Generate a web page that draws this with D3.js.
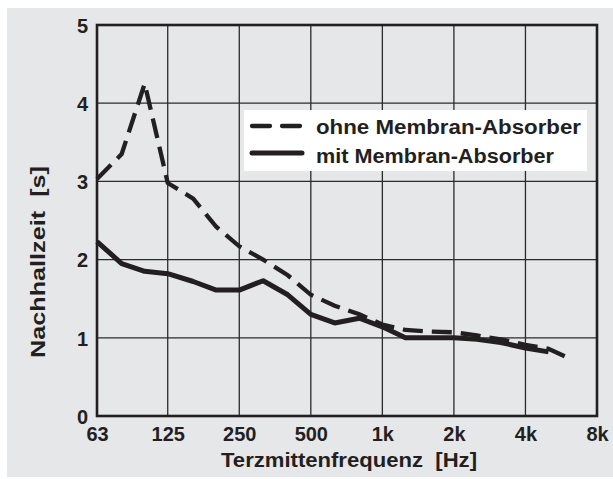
<!DOCTYPE html>
<html>
<head>
<meta charset="utf-8">
<script src="https://cdn.jsdelivr.net/npm/d3@7"></script>
<style>
  html, body { margin: 0; padding: 0; background: #ffffff; }
  svg { display: block; }
  text { font-family: "Liberation Sans", Arial, sans-serif; font-weight: bold; fill: #231f20; }
</style>
</head>
<body>
<svg id="chart" width="613" height="479"></svg>
<script>
// ---- data ----
const freqOhne = [63, 80, 100, 125, 160, 200, 250, 315, 400, 500, 630, 800, 1000, 1250, 1600, 2000, 2500, 3150, 4000, 5000, 6300];
const ohne     = [3.03, 3.35, 4.25, 2.98, 2.78, 2.42, 2.17, 2.0, 1.8, 1.55, 1.41, 1.3, 1.17, 1.1, 1.08, 1.07, 1.03, 0.98, 0.91, 0.86, 0.72];
const freqMit  = [63, 80, 100, 125, 160, 200, 250, 315, 400, 500, 630, 800, 1000, 1250, 1600, 2000, 2500, 3150, 4000, 5000];
const mit      = [2.23, 1.95, 1.85, 1.82, 1.72, 1.61, 1.61, 1.73, 1.55, 1.3, 1.19, 1.25, 1.14, 1.0, 1.0, 1.0, 0.98, 0.94, 0.87, 0.82];
const xTicks      = [63, 125, 250, 500, 1000, 2000, 4000, 8000];
const xTickLabels = ["63", "125", "250", "500", "1k", "2k", "4k", "8k"];
const yTicks      = [0, 1, 2, 3, 4, 5];
const seriesNames = ["ohne Membran-Absorber", "mit Membran-Absorber"];
const xTitle = "Terzmittenfrequenz\u00a0\u00a0[Hz]";
const yTitle = "Nachhallzeit\u00a0\u00a0[s]";

// ---- layout ----
const L = 97, R = 597, T = 25, B = 416;
const svg = d3.select("#chart");

svg.append("rect").attr("x", 7).attr("y", 8).attr("width", 606).attr("height", 469).attr("fill", "#e6e7e9");

const x = d3.scaleLog().domain([63, 8000]).range([L, R]);
const y = d3.scaleLinear().domain([0, 5]).range([B, T]);

// grid
const grid = svg.append("g").attr("stroke", "#2b2b2b").attr("stroke-width", 1.3);
grid.selectAll("line.v").data(xTicks.slice(1, -1)).join("line")
  .attr("x1", d => x(d)).attr("x2", d => x(d)).attr("y1", T).attr("y2", B);
grid.selectAll("line.h").data(yTicks.slice(1, -1)).join("line")
  .attr("x1", L).attr("x2", R).attr("y1", d => y(d)).attr("y2", d => y(d));

// legend box
svg.append("rect").attr("x", 244).attr("y", 110).attr("width", 343).attr("height", 61).attr("fill", "#ffffff");

// lines
const line = d3.line().x(d => x(d[0])).y(d => y(d[1]));
svg.append("path").datum(freqOhne.map((f, i) => [f, ohne[i]]))
  .attr("d", line).attr("fill", "none").attr("stroke", "#231f20")
  .attr("stroke-width", 4.3).attr("stroke-dasharray", "20,9").attr("stroke-linejoin", "miter");
svg.append("path").datum(freqMit.map((f, i) => [f, mit[i]]))
  .attr("d", line).attr("fill", "none").attr("stroke", "#231f20")
  .attr("stroke-width", 5).attr("stroke-linejoin", "round");

// frame
svg.append("rect").attr("x", L).attr("y", T).attr("width", R - L).attr("height", B - T)
  .attr("fill", "none").attr("stroke", "#231f20").attr("stroke-width", 2.6);

// axes labels via d3 axes (ticks hidden)
const xAxis = d3.axisBottom(x).tickValues(xTicks).tickFormat((d, i) => xTickLabels[i]).tickSize(0).tickPadding(0);
const gx = svg.append("g").attr("transform", `translate(0,${B})`).call(xAxis);
gx.select(".domain").remove();
gx.selectAll("text").attr("font-size", 20).attr("font-family", null).attr("fill", null)
  .attr("dy", null).attr("y", 24.5);

const yAxis = d3.axisLeft(y).tickValues(yTicks).tickFormat(d3.format("d")).tickSize(0).tickPadding(0);
const gy = svg.append("g").attr("transform", `translate(${L - 9},0)`).call(yAxis);
gy.select(".domain").remove();
gy.selectAll("text").attr("font-size", 20).attr("font-family", null).attr("fill", null)
  .attr("dy", "0.36em").attr("x", 0);

// titles
svg.append("text").attr("x", 349).attr("y", 467).attr("text-anchor", "middle")
  .attr("font-size", 21).attr("textLength", 256).attr("lengthAdjust", "spacingAndGlyphs").text(xTitle);
svg.append("text").attr("transform", "translate(45,262) rotate(-90)").attr("text-anchor", "middle")
  .attr("font-size", 21).attr("textLength", 192).attr("lengthAdjust", "spacingAndGlyphs").text(yTitle);

// legend
const leg = [{dash: "18,12", w: 4.3, ly: 126, ty: 134}, {dash: null, w: 5, ly: 153, ty: 163}];
leg.forEach((l, i) => {
  svg.append("line").attr("x1", 252).attr("x2", 302).attr("y1", l.ly).attr("y2", l.ly)
    .attr("stroke", "#231f20").attr("stroke-width", l.w).attr("stroke-linecap", "round")
    .attr("stroke-dasharray", l.dash);
  svg.append("text").attr("x", 316).attr("y", l.ty).attr("font-size", 20)
    .attr("textLength", i === 0 ? 265 : 238).attr("lengthAdjust", "spacingAndGlyphs").text(seriesNames[i]);
});
</script>
</body>
</html>
